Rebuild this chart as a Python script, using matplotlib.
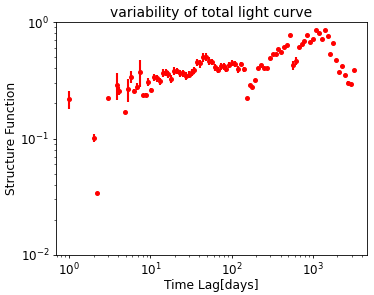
import matplotlib
matplotlib.use("Agg")
import matplotlib.pyplot as plt

# Time lag (days)
lag = [1.0, 2.0, 2.17, 3.0, 3.86, 4.16, 4.93, 5.32, 5.79, 6.3, 6.8, 7.4, 8.13, 8.78, 9.46,
       10.3, 11.2, 12.1, 13.2, 14.3, 15.5, 16.7, 18.1, 19.7, 21.3, 23.2, 25.0, 27.2, 29.7,
       32.3, 34.8, 37.8, 40.8, 44.5, 48.4, 52.7, 57.4, 62.5, 67.5, 73.4, 80.0,
       86.1, 92.9, 101.1, 110.1, 118.9, 130.5, 142.1, 153.4, 167, 179.8, 195.8, 213, 230,
       250, 272, 294, 320, 349, 375, 408, 445, 480, 523, 569, 614, 669, 728, 784, 853,
       929, 1012, 1092, 1189, 1283, 1397, 1521, 1637, 1783, 1941, 2113, 2280, 2483,
       2679, 2917, 3176]

# Structure function values
sf = [0.217, 0.101, 0.034, 0.221, 0.288, 0.257, 0.168, 0.264, 0.340, 0.254, 0.279, 0.375,
      0.235, 0.236, 0.305, 0.261, 0.335, 0.328, 0.312, 0.367, 0.370, 0.356, 0.326, 0.382,
      0.380, 0.363, 0.363, 0.346, 0.354, 0.370, 0.387, 0.451, 0.442, 0.498, 0.504, 0.466,
      0.456, 0.408, 0.387, 0.419, 0.419,
      0.395, 0.428, 0.448, 0.436, 0.393, 0.436, 0.393, 0.221, 0.288, 0.275, 0.316, 0.401,
      0.428, 0.405, 0.405, 0.488, 0.528, 0.528, 0.583, 0.553, 0.614, 0.631, 0.769, 0.428,
      0.466, 0.614, 0.644, 0.683, 0.773, 0.669, 0.719, 0.859, 0.809, 0.715, 0.859, 0.754,
      0.531, 0.664, 0.475, 0.372, 0.417, 0.349, 0.301, 0.292, 0.385]

# Errors on structure function
err = [0.037, 0.008, 0.001, 0.005, 0.075, 0.020, 0.004, 0.060, 0.040, 0.010, 0.020, 0.100,
       0.008, 0.010, 0.025, 0.012, 0.025, 0.022, 0.022, 0.028, 0.028, 0.025, 0.025, 0.028,
       0.025, 0.025, 0.025, 0.025, 0.025, 0.028, 0.028, 0.035, 0.035, 0.040, 0.040, 0.035,
       0.030, 0.028, 0.025, 0.028, 0.028,
       0.025, 0.028, 0.025, 0.025, 0.025, 0.020, 0.018, 0.004, 0.008, 0.008, 0.008, 0.012,
       0.012, 0.010, 0.010, 0.010, 0.010, 0.010, 0.010, 0.010, 0.010, 0.010, 0.010, 0.040,
       0.040, 0.010, 0.010, 0.010, 0.010, 0.010, 0.010, 0.010, 0.010, 0.010, 0.010, 0.020,
       0.010, 0.010, 0.010, 0.008, 0.008, 0.008, 0.008, 0.008, 0.008]

fig = plt.figure(figsize=(3.74, 2.95), dpi=100)
ax = fig.add_axes([0.150, 0.136, 0.831, 0.789])
ax.errorbar(lag, sf, yerr=err, fmt='o', color='red', ecolor='red', ms=2.6,
            elinewidth=1.5, capsize=0)
ax.set_xscale('log')
ax.set_yscale('log')
ax.set_xlim(0.69, 4630)
ax.set_ylim(0.01, 1.0)
ax.set_xlabel('Time Lag[days]', fontsize=8.8, labelpad=0.5)
ax.set_ylabel('Structure Function', fontsize=8.8, labelpad=2)
ax.set_title('variability of total light curve', fontsize=10, pad=4)
ax.tick_params(which='major', labelsize=8.6, length=2.5, width=0.6, pad=2.5)
ax.tick_params(which='minor', length=1.5, width=0.45)
for s in ax.spines.values():
    s.set_linewidth(0.6)
fig.savefig('out.png', dpi=100)
